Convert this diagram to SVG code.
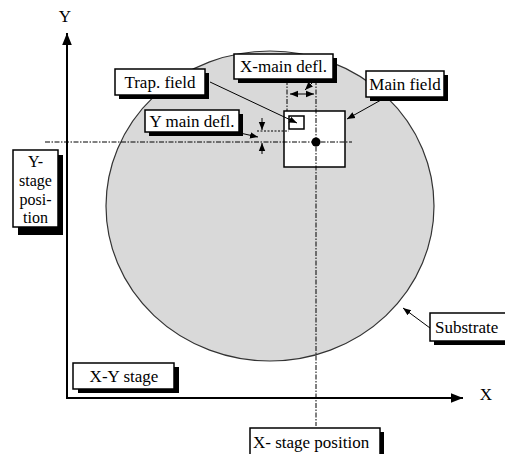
<svg xmlns="http://www.w3.org/2000/svg" width="505" height="454" viewBox="0 0 505 454">
<defs>
<marker id="ah" viewBox="0 0 10 10" refX="10" refY="5" markerWidth="8" markerHeight="8" markerUnits="userSpaceOnUse" orient="auto-start-reverse"><path d="M0,1 L10,5 L0,9 z" fill="#000"/></marker>
<marker id="big" viewBox="0 0 10 10" refX="10" refY="5" markerWidth="12" markerHeight="12" markerUnits="userSpaceOnUse" orient="auto"><path d="M0,1 L10,5 L0,9 z" fill="#000"/></marker>
</defs>
<rect width="505" height="454" fill="#fff"/>
<g id="substrate"><ellipse cx="270" cy="206" rx="164" ry="155" fill="#d9d9d9" stroke="#333" stroke-width="1.2"/></g>
<g id="main-field"><rect x="284" y="111" width="61" height="56" fill="#fff" stroke="#000" stroke-width="1.5"/></g>
<g id="trap-field-rect"><rect x="289" y="116" width="15" height="13" fill="#fff" stroke="#000" stroke-width="1.5"/></g>
<g id="connectors" stroke="#000" fill="none">
<g stroke-width="2"><line x1="67" y1="398" x2="67" y2="33" marker-end="url(#big)"/><line x1="66" y1="398" x2="463" y2="398" marker-end="url(#big)"/></g>
<g stroke-width="1" stroke-dasharray="5 1.5 1.5 1.5"><line x1="45" y1="142" x2="352" y2="142"/><line x1="316" y1="80" x2="316" y2="426"/><line x1="287" y1="80" x2="287" y2="111"/></g>
<line x1="257" y1="131" x2="289" y2="131" stroke-width="1" stroke-dasharray="2 1.5"/>
<g stroke-width="1">
<line x1="290" y1="94" x2="314" y2="94" marker-start="url(#ah)" marker-end="url(#ah)"/>
<line x1="312" y1="83" x2="305" y2="90" marker-end="url(#ah)"/>
<line x1="262" y1="118" x2="262" y2="130" marker-end="url(#ah)"/>
<line x1="262" y1="154" x2="262" y2="143" marker-end="url(#ah)"/>
<line x1="240" y1="133" x2="258" y2="137" marker-end="url(#ah)"/>
<line x1="210" y1="82" x2="297" y2="123" marker-end="url(#ah)"/>
<line x1="381" y1="100" x2="347" y2="119" marker-end="url(#ah)"/>
<line x1="430" y1="328" x2="403" y2="308" marker-end="url(#ah)"/>
</g>
<circle cx="316" cy="142" r="4.5" fill="#000" stroke="none"/>
</g>
<g id="axis-y-label"><text font-family="Liberation Serif" font-size="17" x="65" y="22" text-anchor="middle">Y</text></g>
<g id="axis-x-label"><text font-family="Liberation Serif" font-size="17" x="486" y="400" text-anchor="middle">X</text></g>
<g id="x-main-defl"><rect fill="#000" x="238" y="58" width="99" height="25"/><rect fill="#fff" stroke="#000" stroke-width="1.5" x="234" y="54" width="99" height="25"/><text font-family="Liberation Serif" font-size="17" x="283.5" y="72" text-anchor="middle">X-main defl.</text></g>
<g id="trap-field"><rect fill="#000" x="119" y="73" width="90" height="26"/><rect fill="#fff" stroke="#000" stroke-width="1.5" x="115" y="69" width="90" height="26"/><text font-family="Liberation Serif" font-size="17" x="160" y="88" text-anchor="middle">Trap. field</text></g>
<g id="main-field-label"><rect fill="#000" x="370" y="75" width="78" height="26"/><rect fill="#fff" stroke="#000" stroke-width="1.5" x="366" y="71" width="78" height="26"/><text font-family="Liberation Serif" font-size="17" x="405" y="90" text-anchor="middle">Main field</text></g>
<g id="y-main-defl"><rect fill="#000" x="149" y="114" width="94" height="22"/><rect fill="#fff" stroke="#000" stroke-width="1.5" x="145" y="110" width="94" height="22"/><text font-family="Liberation Serif" font-size="17" x="192" y="127" text-anchor="middle">Y main defl.</text></g>
<g id="y-stage-position"><rect fill="#000" x="18" y="155" width="45" height="80"/><rect fill="#fff" stroke="#000" stroke-width="1.5" x="13" y="150" width="45" height="77"/><text font-family="Liberation Serif" font-size="16" x="35.5" y="167" text-anchor="middle">Y-</text><text font-family="Liberation Serif" font-size="16" x="35.5" y="186" text-anchor="middle">stage</text><text font-family="Liberation Serif" font-size="16" x="35.5" y="205" text-anchor="middle">posi-</text><text font-family="Liberation Serif" font-size="16" x="35.5" y="223" text-anchor="middle">tion</text></g>
<g id="x-y-stage"><rect fill="#000" x="78" y="367" width="101" height="26"/><rect fill="#fff" stroke="#000" stroke-width="1.5" x="73" y="363" width="101" height="26"/><text font-family="Liberation Serif" font-size="17" x="124" y="382" text-anchor="middle">X-Y stage</text></g>
<g id="substrate-label"><rect fill="#000" x="434" y="317" width="75" height="28"/><rect fill="#fff" stroke="#000" stroke-width="1.5" x="430" y="313" width="76" height="28"/><text font-family="Liberation Serif" font-size="17" x="435" y="333">Substrate</text></g>
<g id="x-stage-position"><rect fill="#000" x="254" y="432" width="130" height="26"/><rect fill="#fff" stroke="#000" stroke-width="1.5" x="250" y="428" width="130" height="28"/><text font-family="Liberation Serif" font-size="17" x="253" y="448">X- stage position</text></g>
</svg>
